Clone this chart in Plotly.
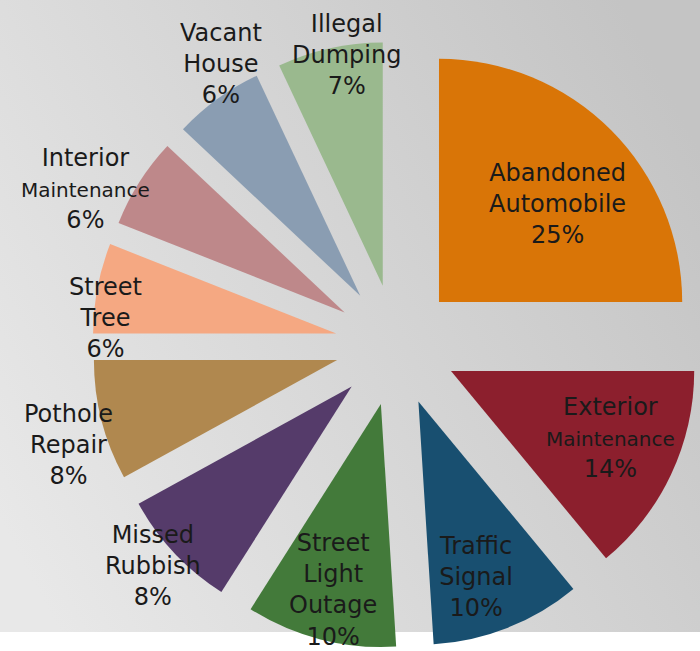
import math, base64
import plotly.graph_objects as go

# ---- data ----
categories = ["Abandoned Automobile", "Exterior Maintenance", "Traffic Signal",
              "Street Light Outage", "Missed Rubbish", "Pothole Repair",
              "Street Tree", "Interior Maintenance", "Vacant House", "Illegal Dumping"]
values = [25, 14, 10, 10, 8, 8, 6, 6, 6, 7]
label_texts = [
    "Abandoned<br>Automobile",
    "Exterior<br><span style='font-size:20px'>Maintenance</span>",
    "Traffic<br>Signal",
    "Street<br>Light<br>Outage",
    "Missed<br>Rubbish",
    "Pothole<br>Repair",
    "Street<br>Tree",
    "Interior<br><span style='font-size:20px'>Maintenance</span>",
    "Vacant<br>House",
    "Illegal<br>Dumping",
]

# ---- styling ----
colors = ["#D97507", "#8C1F2D", "#184F70", "#437A3A", "#553B6A",
          "#B0884F", "#F5A882", "#BE888A", "#8A9DB2", "#9AB98E"]
label_radius = [0.88, 0.96, 1.01, 1.04, 1.35, 1.41, 1.20, 1.43, 1.36, 1.21]
label_shift = [3.8, -1.7, 2.6, 0.0, 1.0, -2.6, -5.5, -5.8, 4.1, 3.0]

W, H = 700, 651
PULL = 0.25
cx_px, cy_px = 396, 345
half = W - cx_px
dom_x = [(cx_px - half) / W, 1.0]
dom_y = [1 - (cy_px + half) / H, 1 - (cy_px - half) / H]
R = half / (1 + PULL)

fig = go.Figure(go.Pie(
    labels=categories, values=values, sort=False, direction="clockwise",
    rotation=0, pull=[PULL] * len(values), textinfo="none", hoverinfo="label+percent",
    marker=dict(colors=colors, line=dict(width=0)),
    domain=dict(x=dom_x, y=dom_y), showlegend=False,
))

total = sum(values)
cum = 0
annotations = []
for i, v in enumerate(values):
    mid = (cum + v / 2) / total * 360
    cum += v
    ang = math.radians(mid + label_shift[i])
    r = label_radius[i] * R
    px = cx_px + r * math.sin(ang)
    py = cy_px - r * math.cos(ang)
    pct = round(v / total * 100)
    annotations.append(dict(
        x=px / W, y=1 - py / H, xref="paper", yref="paper",
        text=f"{label_texts[i]}<br>{pct}%", showarrow=False,
        font=dict(family="DejaVu Sans", size=24, color="#1a1a1a"),
        align="center", xanchor="center", yanchor="middle",
    ))

BG_H = 632
svg = f"""<svg xmlns='http://www.w3.org/2000/svg' width='{W}' height='{BG_H}' viewBox='0 0 {W} {BG_H}' preserveAspectRatio='none'>
<defs><linearGradient id='g' x1='0' y1='520' x2='700' y2='150' gradientUnits='userSpaceOnUse'>
<stop offset='0' stop-color='#e8e8e8'/><stop offset='1' stop-color='#c4c4c4'/>
</linearGradient></defs><rect x='0' y='0' width='{W}' height='{BG_H}' fill='url(#g)'/></svg>"""
src = "data:image/svg+xml;base64," + base64.b64encode(svg.encode()).decode()

fig.update_layout(
    width=W, height=H, margin=dict(l=0, r=0, t=0, b=0),
    paper_bgcolor="white", plot_bgcolor="white",
    annotations=annotations,
    images=[dict(source=src, xref="paper", yref="paper", x=0, y=1,
                 sizex=1, sizey=BG_H / H, sizing="stretch", xanchor="left",
                 yanchor="top", layer="below")],
)
fig.write_html("out.html", config={"displayModeBar": False})

with open("out.html", "r", encoding="utf-8") as f:
    html = f.read()
html = html.replace("<body>", "<body style=\"margin:0;padding:0;\">", 1)
with open("out.html", "w", encoding="utf-8") as f:
    f.write(html)
